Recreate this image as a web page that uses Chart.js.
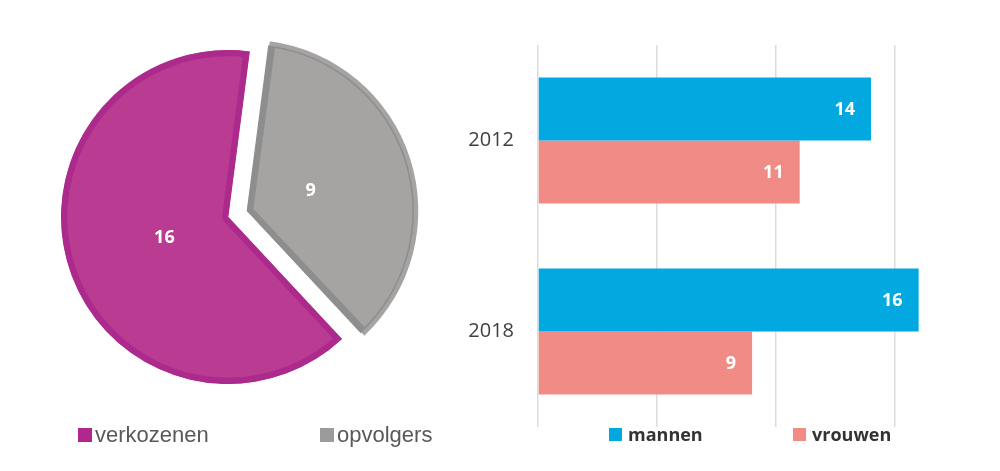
<!DOCTYPE html>
<html>
<head>
<meta charset="utf-8">
<script src="https://cdn.jsdelivr.net/npm/chart.js@4/dist/chart.umd.min.js"></script>
<style>
  body { margin: 0; background: #fff; width: 1000px; height: 471px; position: relative; overflow: hidden; }
  #pieBox { position: absolute; left: 0; top: 0; width: 456px; height: 434px; }
  #barBox { position: absolute; left: 460px; top: 45px; width: 530px; height: 382px; }
  .legend { position: absolute; display: flex; align-items: center; white-space: nowrap; }
  .legend span.box { display: inline-block; }
  #pieLegend { top: 435px; font-family: "Liberation Sans", Arial, sans-serif; font-size: 22px; color: #595959; }
  #barLegend { top: 434px; font-family: "Open Sans", sans-serif; font-weight: bold; font-size: 18px; color: #333; }
</style>
</head>
<body>
<div id="pieBox"><canvas id="pieChart"></canvas></div>
<div id="barBox"><canvas id="barChart"></canvas></div>
<div id="pieLegend" class="legend"></div>
<div id="barLegend" class="legend"></div>
<script>
// pie: verkozenen vs opvolgers
const pieLabels = ['verkozenen', 'opvolgers'];
const pieValues = [16, 9];
const pieColors = ['#b93c92', '#a6a4a3'];
const pieBorders = ['#ad2a8d', '#8f8e8e'];

// bars: mannen / vrouwen per jaar
const years = ['2012', '2018'];
const mannen = [14, 16];
const vrouwen = [11, 9];
const barColors = ['#02a8e0', '#f08c85'];
const xTicks = [0, 5, 10, 15];

// white value labels inside the slices
const pieValueLabels = {
  id: 'pieValueLabels',
  afterDatasetsDraw(chart) {
    const c = chart.ctx;
    const meta = chart.getDatasetMeta(0);
    c.save();
    c.fillStyle = '#fff';
    c.font = 'bold 18px "Open Sans", sans-serif';
    c.textAlign = 'center';
    c.textBaseline = 'middle';
    meta.data.forEach((arc, i) => {
      const p = arc.getProps(['x', 'y', 'startAngle', 'endAngle', 'outerRadius']);
      const mid = (p.startAngle + p.endAngle) / 2;
      const off = (arc.options.offset || 0) / 4;
      const r = p.outerRadius * 0.4 + off;
      c.fillText(pieValues[i], p.x + Math.cos(mid) * r, p.y + Math.sin(mid) * r);
    });
    c.restore();
  }
};

new Chart(document.getElementById('pieChart'), {
  type: 'pie',
  data: {
    labels: pieLabels,
    datasets: [{
      data: pieValues,
      backgroundColor: pieColors,
      borderColor: pieBorders,
      borderWidth: 6,
      borderAlign: 'inner',
      offset: [0, 80]
    }]
  },
  options: {
    responsive: true,
    maintainAspectRatio: false,
    animation: false,
    rotation: 137,
    radius: 167,
    layout: { padding: 0 },
    plugins: { legend: { display: false }, tooltip: { enabled: false } }
  },
  plugins: [pieValueLabels]
});

// white numbers at the end of each bar
const barValueLabels = {
  id: 'barValueLabels',
  afterDatasetsDraw(chart) {
    const c = chart.ctx;
    c.save();
    c.fillStyle = '#fff';
    c.font = 'bold 18px "Open Sans", sans-serif';
    c.textAlign = 'right';
    c.textBaseline = 'middle';
    chart.data.datasets.forEach((ds, di) => {
      chart.getDatasetMeta(di).data.forEach((bar, i) => {
        c.fillText(ds.data[i], bar.x - 16, bar.y + 1);
      });
    });
    c.restore();
  }
};

new Chart(document.getElementById('barChart'), {
  type: 'bar',
  data: {
    labels: years,
    datasets: [
      { label: 'mannen', data: mannen, backgroundColor: barColors[0] },
      { label: 'vrouwen', data: vrouwen, backgroundColor: barColors[1] }
    ]
  },
  options: {
    indexAxis: 'y',
    responsive: true,
    maintainAspectRatio: false,
    animation: false,
    layout: { padding: 0 },
    datasets: { bar: { categoryPercentage: 0.66, barPercentage: 1 } },
    scales: {
      x: {
        min: 0,
        max: 19,
        afterBuildTicks: (axis) => { axis.ticks = xTicks.map(v => ({ value: v })); },
        afterFit: (axis) => { axis.height = 0; axis.paddingLeft = 0; axis.paddingRight = 0; },
        ticks: { display: false },
        grid: { color: '#dcdcdc', lineWidth: 1.5, drawTicks: false },
        border: { display: false }
      },
      y: {
        afterFit: (axis) => { axis.width = 78; axis.paddingTop = 0; axis.paddingBottom = 0; },
        ticks: {
          padding: 24,
          color: '#404040',
          font: { family: '"Open Sans", sans-serif', size: 20 }
        },
        grid: { display: false, drawTicks: false },
        border: { display: false }
      }
    },
    plugins: { legend: { display: false }, tooltip: { enabled: false } }
  },
  plugins: [barValueLabels]
});

// legends as html, built from the same arrays
function buildLegend(el, labels, colors, boxSize, gap, positions) {
  labels.forEach((txt, i) => {
    const item = document.createElement('div');
    item.className = 'legend';
    item.style.left = positions[i] + 'px';
    const box = document.createElement('span');
    box.className = 'box';
    box.style.width = boxSize + 'px';
    box.style.height = boxSize + 'px';
    box.style.background = colors[i];
    box.style.marginRight = gap + 'px';
    item.appendChild(box);
    item.appendChild(document.createTextNode(txt));
    el.appendChild(item);
  });
}
buildLegend(document.getElementById('pieLegend'), pieLabels, ['#b2278d', '#9c9b9b'], 14, 3, [78, 320]);
buildLegend(document.getElementById('barLegend'), ['mannen', 'vrouwen'], barColors, 13, 6, [609, 793]);
</script>
</body>
</html>
